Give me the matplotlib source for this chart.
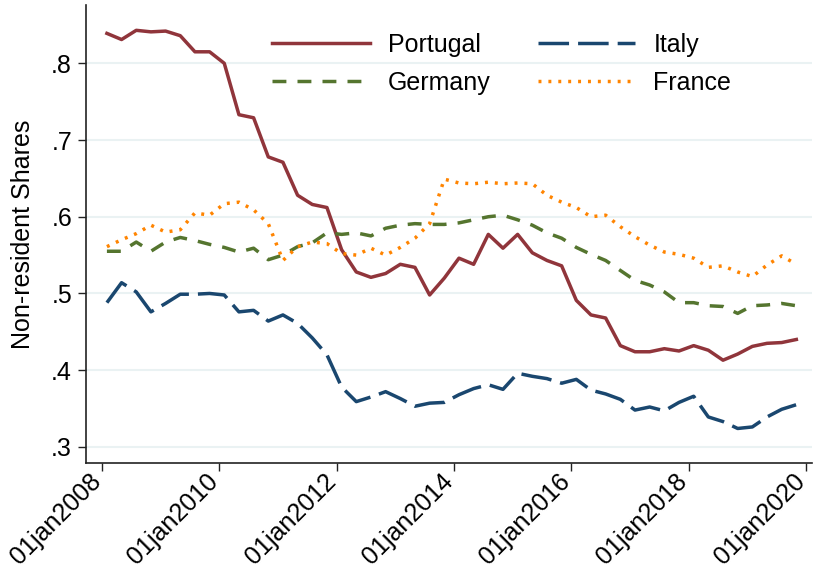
import numpy as np
import matplotlib
matplotlib.use('Agg')
import matplotlib.pyplot as plt

# quarterly observations 2008q1 - 2019q4 (plotted at the 2nd month of each quarter)
start_year = 2008
n_quarters = 48

portugal = [0.839, 0.831, 0.843, 0.841, 0.842, 0.836, 0.815, 0.815, 0.800, 0.733,
            0.729, 0.678, 0.671, 0.628, 0.616, 0.612, 0.557, 0.528, 0.521, 0.526,
            0.538, 0.534, 0.498, 0.520, 0.546, 0.538, 0.577, 0.559, 0.577, 0.553,
            0.543, 0.536, 0.491, 0.472, 0.468, 0.432, 0.424, 0.424, 0.428, 0.425,
            0.432, 0.426, 0.413, 0.421, 0.431, 0.435, 0.436, 0.440]
germany = [0.555, 0.555, 0.567, 0.555, 0.567, 0.573, 0.569, 0.564, 0.560, 0.554,
           0.559, 0.544, 0.550, 0.561, 0.566, 0.579, 0.577, 0.579, 0.575, 0.585,
           0.589, 0.591, 0.590, 0.590, 0.592, 0.596, 0.600, 0.602, 0.596, 0.589,
           0.579, 0.572, 0.560, 0.551, 0.543, 0.530, 0.517, 0.511, 0.502, 0.488,
           0.488, 0.484, 0.483, 0.474, 0.484, 0.485, 0.487, 0.484]
italy = [0.488, 0.514, 0.502, 0.476, 0.487, 0.499, 0.499, 0.500, 0.498, 0.476,
         0.478, 0.464, 0.472, 0.461, 0.442, 0.420, 0.378, 0.359, 0.365, 0.372,
         0.363, 0.353, 0.357, 0.358, 0.368, 0.376, 0.381, 0.375, 0.396, 0.392,
         0.389, 0.383, 0.388, 0.374, 0.369, 0.362, 0.348, 0.352, 0.347, 0.358,
         0.366, 0.339, 0.333, 0.324, 0.326, 0.339, 0.349, 0.355]
france = [0.561, 0.570, 0.578, 0.589, 0.580, 0.583, 0.605, 0.602, 0.617, 0.619,
          0.609, 0.591, 0.543, 0.561, 0.567, 0.565, 0.552, 0.550, 0.559, 0.550,
          0.560, 0.572, 0.591, 0.649, 0.644, 0.643, 0.645, 0.643, 0.644, 0.643,
          0.628, 0.619, 0.612, 0.600, 0.602, 0.587, 0.574, 0.563, 0.554, 0.551,
          0.546, 0.534, 0.536, 0.528, 0.522, 0.537, 0.549, 0.538]

yticks = [0.3, 0.4, 0.5, 0.6, 0.7, 0.8]
xtick_years = [2008, 2010, 2012, 2014, 2016, 2018, 2020]

plt.rcParams['font.family'] = ['Liberation Sans', 'DejaVu Sans']

t = start_year + 1 / 12 + 0.25 * np.arange(n_quarters)

fig = plt.figure(figsize=(8.14, 5.69), dpi=100)
ax = fig.add_axes([86 / 814, 1 - 463 / 569, 726 / 814, 458 / 569])

lw = 2.5
ax.plot(t, portugal, color='#90353b', lw=lw, label='Portugal')
ax.plot(t, germany, color='#55752f', lw=lw, dashes=(4.0, 3.2), label='Germany')
ax.plot(t, italy, color='#1a476f', lw=lw, dashes=(8.8, 2.6), label='Italy')
ax.plot(t, france, color='#ff8400', lw=lw, dashes=(0.85, 2.0), label='France')

ax.set_xlim(2007.727, 2020.10)
ax.set_ylim(0.279, 0.876)

ax.set_yticks(yticks)
ax.set_yticklabels([('%.1f' % v).lstrip('0') for v in yticks])
ax.set_xticks(xtick_years)
ax.set_xticklabels(['01jan%d' % y for y in xtick_years], rotation=45,
                   ha='right', va='baseline', rotation_mode='anchor', fontsize=16.5)

ax.grid(axis='y', color='#eaf2f3', lw=1.5)
ax.set_axisbelow(True)
for s in ['top', 'right']:
    ax.spines[s].set_visible(False)
for s in ['left', 'bottom']:
    ax.spines[s].set_color('#222222')
    ax.spines[s].set_linewidth(1.2)
ax.tick_params(axis='both', direction='out', length=6, width=1.0, color='#222222',
               labelsize=18, pad=4)
ax.tick_params(axis='x', pad=8)
ax.set_ylabel('Non-resident Shares', fontsize=18, labelpad=12)

ax.legend(loc='upper left', ncol=2, frameon=False, fontsize=18,
          bbox_to_anchor=(272 / 814, 1 - 33 / 569), bbox_transform=fig.transFigure,
          borderpad=0, borderaxespad=0, handlelength=3.9, handletextpad=0.72,
          columnspacing=1.9, labelspacing=0.55)

fig.savefig('out.png', dpi=100)
